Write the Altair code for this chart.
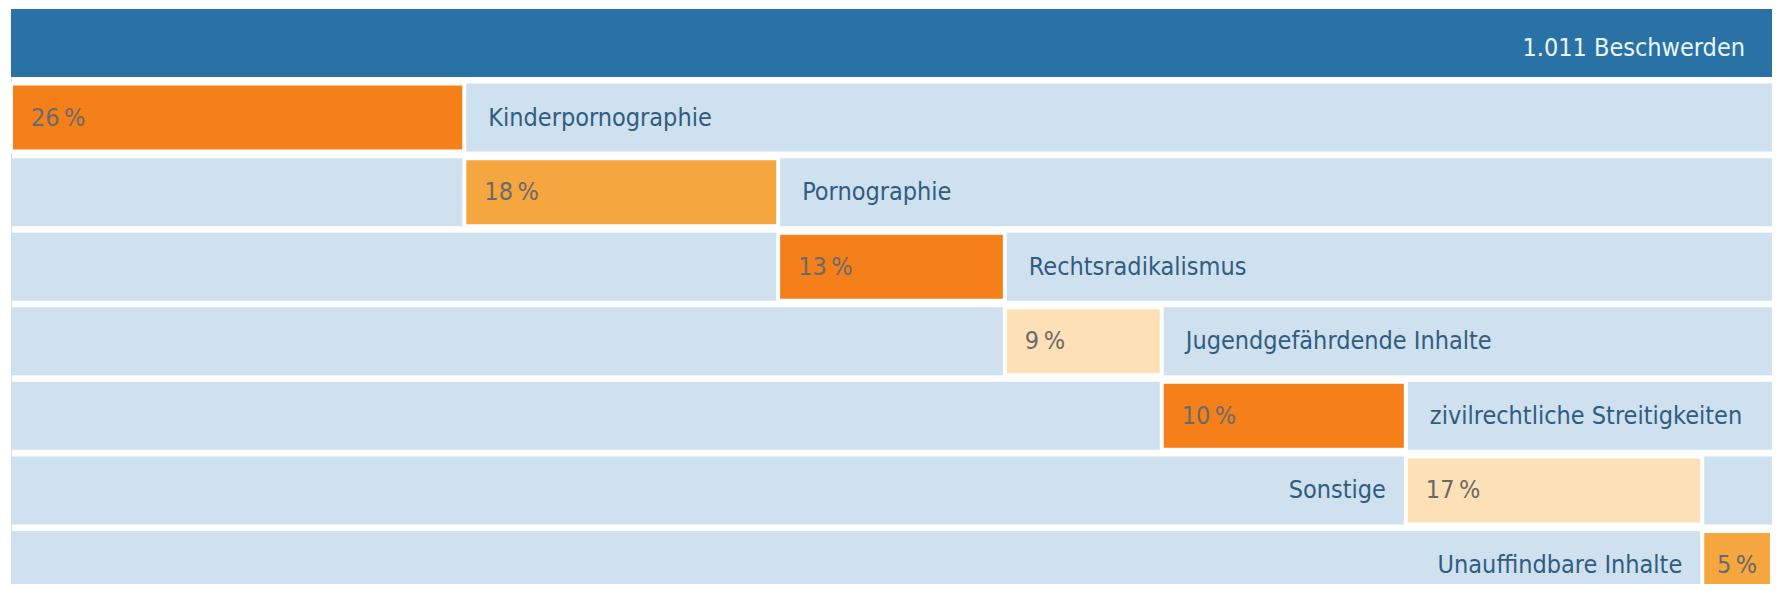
import altair as alt
import pandas as pd

# ---- data ----
categories = [
    "Kinderpornographie",
    "Pornographie",
    "Rechtsradikalismus",
    "Jugendgefährdende Inhalte",
    "zivilrechtliche Streitigkeiten",
    "Sonstige",
    "Unauffindbare Inhalte",
]
pct_values = [26, 18, 13, 9, 10, 17, 5]          # printed percentages
bar_lengths = [26, 18, 13, 9, 14, 17, 4]         # segment lengths as drawn
shades = ["kräftig", "mittel", "kräftig", "hell", "kräftig", "hell", "mittel"]
total_text = "1.011 Beschwerden"
header_row = "Gesamt"

# ---- derived tables ----
total = sum(bar_lengths)
rows = [header_row] + categories

seg = pd.DataFrame({
    "row": categories,
    "length": bar_lengths,
    "pct": pct_values,
    "shade": shades,
})
seg["end"] = seg["length"].cumsum()
seg["start"] = seg["end"] - seg["length"]
seg["mid"] = (seg["start"] + seg["end"]) / 2
seg["pct_text"] = [f"{v}\u2009%" for v in seg["pct"]]
seg["side"] = ["left" if e > 0.85 * total else "right" for e in seg["end"]]
seg["narrow"] = seg["length"] < 6

bg = pd.DataFrame({
    "row": rows,
    "x0": [0] * len(rows),
    "x1": [total] * len(rows),
    "kind": ["header"] + ["row"] * len(categories),
    "label": [total_text] + [""] * len(categories),
})

FONT = "DejaVu Sans Condensed, Roboto Condensed, Roboto, sans-serif"
FS = 25
xs = alt.Scale(domain=[0, total], nice=False, zero=False)
ys = alt.Scale(domain=rows, range=[0, 590], paddingInner=0.088, paddingOuter=0)

Y = alt.Y("row:N", scale=ys, axis=None, sort=rows)

base_bg = alt.Chart(bg)

back = base_bg.mark_bar().encode(
    x=alt.X("x0:Q", scale=xs, axis=None),
    x2="x1:Q",
    y=Y,
    color=alt.Color(
        "kind:N",
        scale=alt.Scale(domain=["header", "row"], range=["#2a72a6", "#cfe0ee"]),
        legend=None,
    ),
)

header_text = base_bg.transform_filter(alt.datum.kind == "header").mark_text(
    align="right", baseline="middle", dx=-27, dy=5, font=FONT, fontSize=FS, color="#e8f6fc"
).encode(x=alt.X("x1:Q", scale=xs), y=Y, text="label:N")

base_seg = alt.Chart(seg)

segments = base_seg.mark_bar(stroke="white", strokeWidth=4).encode(
    x=alt.X("start:Q", scale=xs),
    x2="end:Q",
    y=Y,
    fill=alt.Fill(
        "shade:N",
        scale=alt.Scale(domain=["kräftig", "mittel", "hell"],
                        range=["#f5801a", "#f6a63f", "#fde0b6"]),
        legend=None,
    ),
)

cat_right = base_seg.transform_filter(alt.datum.side == "right").mark_text(
    align="left", baseline="middle", dx=24, font=FONT, fontSize=FS, color="#2f5d82"
).encode(x=alt.X("end:Q", scale=xs), y=Y, text="row:N")

cat_left = base_seg.transform_filter(alt.datum.side == "left").mark_text(
    align="right", baseline="middle", dx=-20, font=FONT, fontSize=FS, color="#2f5d82"
).encode(x=alt.X("start:Q", scale=xs), y=Y, text="row:N")

pct_wide = base_seg.transform_filter(alt.datum.narrow == False).mark_text(
    align="left", baseline="middle", dx=20, font=FONT, fontSize=FS, color="#6a6a6a"
).encode(x=alt.X("start:Q", scale=xs), y=Y, text="pct_text:N")

pct_narrow = base_seg.transform_filter(alt.datum.narrow == True).mark_text(
    align="center", baseline="middle", font=FONT, fontSize=FS, color="#6a6a6a"
).encode(x=alt.X("mid:Q", scale=xs), y=Y, text="pct_text:N")

chart = alt.layer(
    back, header_text, segments, cat_right, cat_left, pct_wide, pct_narrow
).properties(
    width=1761,
    height=575,
    autosize=alt.AutoSizeParams(type="none"),
    padding={"left": 3, "top": 1, "right": 0, "bottom": 0},
).configure_view(stroke=None).configure(background="white")

chart.save("out.html", embed_options={"renderer": "svg", "actions": False})
